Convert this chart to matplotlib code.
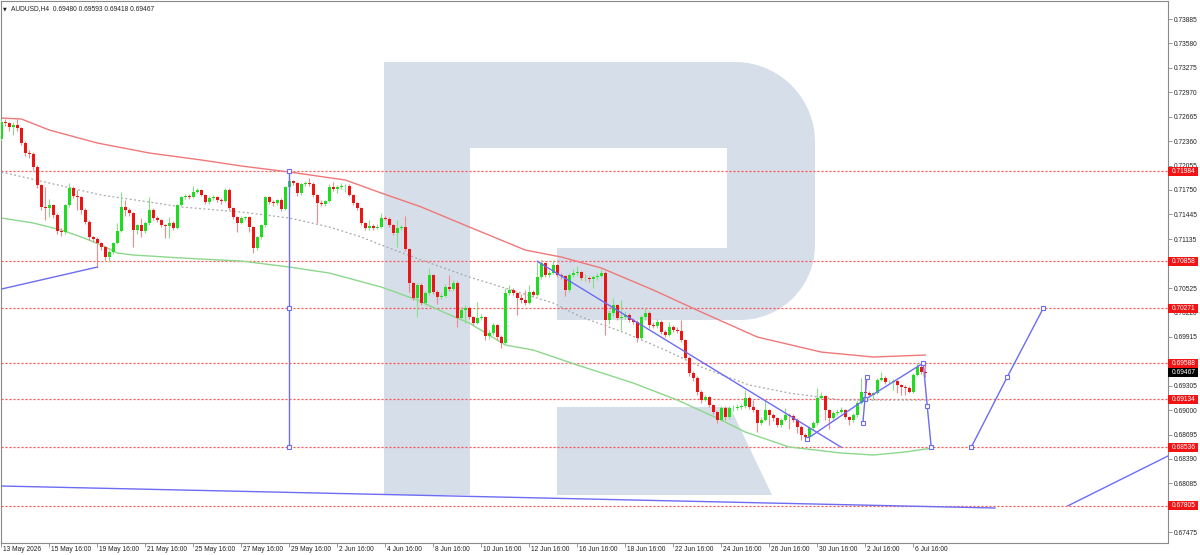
import numpy as np
import matplotlib
matplotlib.use("Agg")
import matplotlib.pyplot as plt
from matplotlib.patches import Polygon, Rectangle
from matplotlib.transforms import Affine2D, blended_transform_factory

plt.rcParams['font.family'] = ['Liberation Sans', 'DejaVu Sans']

# AUDUSD H4 candles, bar 0 = 13 May 16:00
first_open = 0.72386
closes = [
    0.72598, 0.72586, 0.72536, 0.72561, 0.72523, 0.72336, 0.72211, 0.72199, 0.72036, 0.71811, 0.71537, 0.71524,
    0.71562, 0.71437, 0.71237, 0.71224, 0.71562, 0.71774, 0.71674, 0.71661, 0.71499, 0.71349, 0.71162, 0.71137,
    0.71087, 0.71037, 0.70912, 0.70975, 0.71087, 0.71237, 0.71537, 0.71499, 0.71462, 0.71249, 0.71312, 0.71237,
    0.71337, 0.71499, 0.71399, 0.71374, 0.71312, 0.71299, 0.71337, 0.71274, 0.71562, 0.71661, 0.71674, 0.71661,
    0.71724, 0.71749, 0.71686, 0.71599, 0.71649, 0.71661, 0.71624, 0.71612, 0.71749, 0.71524, 0.71412, 0.71337,
    0.71399, 0.71412, 0.71287, 0.71024, 0.71162, 0.71312, 0.71661, 0.71599, 0.71587, 0.71624, 0.71512, 0.71786,
    0.71861, 0.71836, 0.71711, 0.71824, 0.71836, 0.71824, 0.71686, 0.71587, 0.71574, 0.71612, 0.71786, 0.71761,
    0.71786, 0.71799, 0.71799, 0.71686, 0.71587, 0.71524, 0.71337, 0.71274, 0.71299, 0.71274, 0.71287, 0.71399,
    0.71387, 0.71312, 0.71212, 0.71274, 0.71287, 0.71012, 0.70587, 0.70400, 0.70562, 0.70338, 0.70462, 0.70687,
    0.70475, 0.70412, 0.70425, 0.70537, 0.70512, 0.70587, 0.70150, 0.70250, 0.70275, 0.70163, 0.70088, 0.70150,
    0.70163, 0.69925, 0.69963, 0.70063, 0.69913, 0.69838, 0.70462, 0.70500, 0.70462, 0.70400, 0.70375, 0.70338,
    0.70475, 0.70437, 0.70662, 0.70837, 0.70687, 0.70712, 0.70812, 0.70687, 0.70675, 0.70500, 0.70687, 0.70712,
    0.70725, 0.70650, 0.70650, 0.70637, 0.70662, 0.70675, 0.70712, 0.70125, 0.70213, 0.70313, 0.70150, 0.70163,
    0.70188, 0.70125, 0.70100, 0.69900, 0.70163, 0.70213, 0.70063, 0.70050, 0.70100, 0.69975, 0.69938, 0.70038,
    0.70000, 0.69988, 0.69875, 0.69651, 0.69463, 0.69401, 0.69226, 0.69126, 0.69163, 0.69064, 0.68976, 0.68876,
    0.69026, 0.68914, 0.69026, 0.69026, 0.69039, 0.69051, 0.69151, 0.69039, 0.69001, 0.68839, 0.68876, 0.69001,
    0.68939, 0.68901, 0.68814, 0.68876, 0.68939, 0.68926, 0.68876, 0.68789, 0.68689, 0.68664, 0.68776, 0.68839,
    0.69151, 0.69176, 0.69001, 0.68901, 0.68964, 0.68976, 0.69001, 0.68914, 0.68876, 0.68939, 0.69089, 0.69226,
    0.69213, 0.69188, 0.69213, 0.69376, 0.69401, 0.69351, 0.69351, 0.69363, 0.69313, 0.69288, 0.69276, 0.69226,
    0.69438, 0.69538, 0.69480, 0.69467,
]
highs = [
    0.7263, 0.7263, 0.7260, 0.7260, 0.7263, 0.7254, 0.7236, 0.7225, 0.7222, 0.7206, 0.7183, 0.7179,
    0.7164, 0.7158, 0.7146, 0.7127, 0.7158, 0.7184, 0.7180, 0.7175, 0.7168, 0.7152, 0.7137, 0.7118,
    0.7116, 0.7110, 0.7105, 0.7100, 0.7110, 0.7134, 0.7172, 0.7162, 0.7153, 0.7148, 0.7133, 0.7140,
    0.7136, 0.7166, 0.7152, 0.7142, 0.7139, 0.7133, 0.7141, 0.7136, 0.7158, 0.7168, 0.7170, 0.7170,
    0.7180, 0.7177, 0.7176, 0.7170, 0.7167, 0.7169, 0.7168, 0.7165, 0.7177, 0.7177, 0.7154, 0.7143,
    0.7142, 0.7143, 0.7143, 0.7130, 0.7118, 0.7133, 0.7168, 0.7168, 0.7163, 0.7164, 0.7165, 0.7180,
    0.7190, 0.7188, 0.7185, 0.7184, 0.7186, 0.7190, 0.7185, 0.7170, 0.7162, 0.7163, 0.7182, 0.7185,
    0.7181, 0.7184, 0.7183, 0.7182, 0.7170, 0.7160, 0.7154, 0.7135, 0.7137, 0.7133, 0.7133, 0.7146,
    0.7142, 0.7141, 0.7133, 0.7137, 0.7131, 0.7142, 0.7103, 0.7060, 0.7059, 0.7059, 0.7049, 0.7078,
    0.7070, 0.7050, 0.7046, 0.7058, 0.7069, 0.7062, 0.7061, 0.7029, 0.7031, 0.7030, 0.7018, 0.7035,
    0.7020, 0.7018, 0.7000, 0.7009, 0.7008, 0.6994, 0.7052, 0.7056, 0.7052, 0.7048, 0.7045, 0.7050,
    0.7056, 0.7050, 0.7085, 0.7087, 0.7085, 0.7075, 0.7087, 0.7083, 0.7071, 0.7069, 0.7071, 0.7076,
    0.7080, 0.7074, 0.7070, 0.7068, 0.7069, 0.7071, 0.7076, 0.7074, 0.7025, 0.7040, 0.7033, 0.7038,
    0.7024, 0.7021, 0.7015, 0.7012, 0.7019, 0.7028, 0.7024, 0.7010, 0.7014, 0.7012, 0.7000, 0.7010,
    0.7006, 0.7004, 0.7012, 0.6989, 0.6967, 0.6949, 0.6943, 0.6925, 0.6919, 0.6918, 0.6908, 0.6899,
    0.6905, 0.6905, 0.6905, 0.6906, 0.6907, 0.6908, 0.6925, 0.6917, 0.6913, 0.6902, 0.6892, 0.6912,
    0.6902, 0.6896, 0.6892, 0.6890, 0.6903, 0.6896, 0.6895, 0.6890, 0.6881, 0.6871, 0.6880, 0.6887,
    0.6927, 0.6923, 0.6919, 0.6902, 0.6899, 0.6901, 0.6904, 0.6902, 0.6893, 0.6897, 0.6912, 0.6940,
    0.6940, 0.6924, 0.6923, 0.6940, 0.6948, 0.6942, 0.6938, 0.6939, 0.6938, 0.6933, 0.6931, 0.6930,
    0.6946, 0.6959, 0.6959, 0.69593,
]
lows = [
    0.7237, 0.7255, 0.7249, 0.7244, 0.7249, 0.7231, 0.7218, 0.7215, 0.7200, 0.7177, 0.7150, 0.7137,
    0.7141, 0.7140, 0.7120, 0.7118, 0.7120, 0.7154, 0.7165, 0.7150, 0.7145, 0.7132, 0.7113, 0.7110,
    0.7079, 0.7100, 0.7088, 0.7085, 0.7095, 0.7107, 0.7122, 0.7142, 0.7143, 0.7104, 0.7120, 0.7116,
    0.7121, 0.7131, 0.7137, 0.7135, 0.7129, 0.7115, 0.7115, 0.7125, 0.7126, 0.7155, 0.7164, 0.7164,
    0.7165, 0.7171, 0.7167, 0.7157, 0.7158, 0.7163, 0.7160, 0.7158, 0.7160, 0.7150, 0.7139, 0.7122,
    0.7132, 0.7137, 0.7122, 0.7096, 0.7100, 0.7114, 0.7129, 0.7157, 0.7155, 0.7156, 0.7149, 0.7150,
    0.7177, 0.7181, 0.7168, 0.7169, 0.7180, 0.7180, 0.7166, 0.7134, 0.7155, 0.7155, 0.7160, 0.7174,
    0.7171, 0.7176, 0.7173, 0.7167, 0.7156, 0.7150, 0.7131, 0.7125, 0.7125, 0.7125, 0.7126, 0.7127,
    0.7137, 0.7129, 0.7119, 0.7104, 0.7125, 0.7099, 0.7047, 0.7037, 0.7016, 0.7031, 0.7031, 0.7044,
    0.7045, 0.7033, 0.7039, 0.7041, 0.7049, 0.7049, 0.7004, 0.7012, 0.7009, 0.7014, 0.7006, 0.7007,
    0.7013, 0.6988, 0.6989, 0.6994, 0.6988, 0.6978, 0.6982, 0.7044, 0.7044, 0.7019, 0.7034, 0.7031,
    0.7032, 0.7041, 0.7042, 0.7064, 0.7066, 0.7066, 0.7070, 0.7066, 0.7064, 0.7043, 0.7048, 0.7066,
    0.7069, 0.7062, 0.7061, 0.7060, 0.7053, 0.7063, 0.7066, 0.6994, 0.7008, 0.7018, 0.7013, 0.7000,
    0.7014, 0.7010, 0.7007, 0.6985, 0.6988, 0.7013, 0.7003, 0.7002, 0.7003, 0.6995, 0.6991, 0.6992,
    0.6997, 0.6996, 0.6985, 0.6962, 0.6943, 0.6936, 0.6919, 0.6909, 0.6911, 0.6904, 0.6895, 0.6884,
    0.6886, 0.6888, 0.6889, 0.6899, 0.6900, 0.6902, 0.6903, 0.6901, 0.6898, 0.6873, 0.6881, 0.6886,
    0.6881, 0.6887, 0.6879, 0.6879, 0.6886, 0.6876, 0.6885, 0.6872, 0.6863, 0.6862, 0.6864, 0.6875,
    0.6882, 0.6914, 0.6888, 0.6876, 0.6888, 0.6894, 0.6896, 0.6889, 0.6881, 0.6885, 0.6892, 0.6907,
    0.6919, 0.6916, 0.6912, 0.6920, 0.6936, 0.6933, 0.6933, 0.6925, 0.6921, 0.6919, 0.6919, 0.6921,
    0.6921, 0.6942, 0.6945, 0.69418,
]

# moving averages read at sample bars
red_ma_x = [0, 5, 12, 24, 37, 50, 60, 72, 86, 95, 105, 117, 131, 140, 150, 163, 175, 189, 205, 218, 231]
red_ma = [0.72648, 0.72636, 0.72498, 0.72336, 0.72211, 0.72124, 0.72049, 0.71974, 0.71874, 0.71711, 0.71537,
          0.71287, 0.70999, 0.70912, 0.70775, 0.70500, 0.70225, 0.69913, 0.69725, 0.69663, 0.69688]
green_ma_x = [0, 8, 15, 20, 25, 29, 33, 45, 60, 72, 82, 95, 104, 111, 117, 126, 133, 144, 158, 169, 180,
              186, 197, 210, 218, 226, 233]
green_ma = [0.71399, 0.71337, 0.71249, 0.71162, 0.71062, 0.70962, 0.70937, 0.70900, 0.70862, 0.70787, 0.70712,
            0.70537, 0.70375, 0.70213, 0.70088, 0.69813, 0.69750, 0.69563, 0.69338, 0.69126, 0.68876, 0.68726,
            0.68539, 0.68464, 0.68439, 0.68477, 0.68527]
gray_ma_x = [0, 12, 25, 37, 45, 60, 72, 82, 90, 95, 105, 117, 130, 138, 145, 156, 166, 175, 187, 197, 210, 232]
gray_ma = [0.71974, 0.71836, 0.71686, 0.71599, 0.71537, 0.71474, 0.71399, 0.71287, 0.71162, 0.71062, 0.70875,
           0.70662, 0.70462, 0.70337, 0.70163, 0.69963, 0.69750, 0.69538, 0.69313, 0.69213, 0.69126, 0.69126]

levels = [0.71984, 0.70858, 0.70271, 0.69588, 0.69134, 0.68536, 0.67805]
last_price = 0.69467

# wave / trend lines drawn by the analyst (bar, price)
trend_a = ([0, 24], [0.70512, 0.70787])
trend_b = ([134, 210], [0.70858, 0.68536])
trend_low = ([-0.3, 248.4], [0.68052, 0.67777])
trend_up = ([266.7, 291.7], [0.67805, 0.68427])
target_bar = ([72, 72, 72], [0.71984, 0.70271, 0.68536])
wave_now = ([201.4, 216, 230.5, 231.5, 232.5], [0.68639, 0.69134, 0.69588, 0.69051, 0.68536])
wave_tick = ([215.4, 216.4], [0.68839, 0.69413])
wave_next = ([242.5, 251.5, 260.5], [0.68536, 0.69413, 0.70271])

yticks = [0.73885, 0.73580, 0.73275, 0.72970, 0.72665, 0.72360, 0.72055, 0.71750, 0.71445, 0.71135,
          0.70830, 0.70525, 0.70220, 0.69915, 0.69610, 0.69305, 0.69000, 0.68695, 0.68390, 0.68085,
          0.67780, 0.67475]
hidden_ticks = [0.70830, 0.67780]  # covered by the level tags
xlabels = ["13 May 2026", "15 May 16:00", "19 May 16:00", "21 May 16:00", "25 May 16:00", "27 May 16:00",
           "29 May 16:00", "2 Jun 16:00", "4 Jun 16:00", "8 Jun 16:00", "10 Jun 16:00", "12 Jun 16:00",
           "16 Jun 16:00", "18 Jun 16:00", "22 Jun 16:00", "24 Jun 16:00", "26 Jun 16:00", "30 Jun 16:00",
           "2 Jul 16:00", "6 Jul 16:00"]
bars_per_label = 12

fig = plt.figure(figsize=(12, 5.55), dpi=100, facecolor="white")
ax = fig.add_axes([1 / 1200, 12 / 555, 1167 / 1200, 542 / 555])
ax.set_facecolor("white")
ax.set_xlim(-0.1, 291.7)
ax.set_ylim(0.67340, 0.74110)

# watermark logo, in image pixels (y down)
px = Affine2D().scale(1 / 100, -1 / 100).translate(0, 5.55) + fig.dpi_scale_trans
t1 = np.linspace(np.pi / 2, 0, 20)
t2 = np.linspace(0, -np.pi / 2, 20)
bowl = ([(384, 62)] + list(zip(735 + 80 * np.cos(t1), 142 - 80 * np.sin(t1)))
        + list(zip(740 + 75 * np.cos(t2), 245 - 75 * np.sin(t2)))
        + [(557, 320), (557, 248), (727, 248), (727, 148), (470, 148), (470, 495), (384, 495)])
leg = [(557, 407), (730, 407), (772, 495), (557, 495)]
for shape in (bowl, leg):
    ax.add_patch(Polygon(shape, closed=True, fc="#d5dee9", ec="none", transform=px, zorder=0))

# price levels
for lv in levels:
    ax.axhline(lv, color="#ff5050", lw=0.9, ls=(0, (1.6, 1.6)), zorder=1)

# moving averages
ax.plot(red_ma_x, red_ma, color="#f07878", lw=1.0, zorder=2)
ax.plot(green_ma_x, green_ma, color="#8cd88c", lw=1.0, zorder=2)
ax.plot(gray_ma_x, gray_ma, color="#a8a8a8", lw=0.9, ls=(0, (1.5, 2)), zorder=2)

# candles
closes = np.array(closes)
opens = np.concatenate([[first_open], closes[:-1]])
highs = np.array(highs)
lows = np.array(lows)
idx = np.arange(len(closes))
up = closes >= opens
ax.vlines(idx[up], lows[up], highs[up], color="#86e086", lw=0.8, zorder=3)
ax.vlines(idx[~up], lows[~up], highs[~up], color="#f28a8a", lw=0.8, zorder=3)
body = np.maximum(np.abs(closes - opens), 0.00004)
ax.bar(idx[up], body[up], bottom=np.minimum(opens, closes)[up], width=0.72,
       color="#1edc1e", lw=0, zorder=4)
ax.bar(idx[~up], body[~up], bottom=np.minimum(opens, closes)[~up], width=0.72,
       color="#ec1414", lw=0, zorder=4)

# analyst lines
blue = "#6c6cf5"
for xs, ys in (trend_a, trend_b, trend_low, trend_up):
    ax.plot(xs, ys, color=blue, lw=1.0, zorder=5)
for xs, ys in (target_bar, wave_now, wave_tick, wave_next):
    ax.plot(xs, ys, color=blue, lw=1.0, marker="s", ms=3, mfc="white", mec=blue, mew=0.8, zorder=5)

# axes styling
for side in ("left", "top", "right", "bottom"):
    ax.spines[side].set_color("#8a8a8a")
    ax.spines[side].set_linewidth(0.8)
ax.yaxis.tick_right()
ax.set_yticks(yticks)
ax.set_yticklabels(["" if v in hidden_ticks else f"{v:.5f}" for v in yticks])
ax.tick_params(axis="y", length=3, width=0.6, pad=1.5, labelsize=4.8, colors="#8a8a8a", labelcolor="#222222")

xpos = np.arange(len(xlabels)) * bars_per_label
ax.set_xticks(xpos)
ax.set_xticklabels([""] * len(xpos))
ax.tick_params(axis="x", length=3, width=0.6, colors="#8a8a8a")
for pos, lab in zip(xpos, xlabels):
    ax.annotate(lab, xy=(pos, 0), xycoords=("data", "axes fraction"), xytext=(2, -3),
                textcoords="offset pixels", ha="left", va="top", fontsize=4.8, color="#222222",
                annotation_clip=False)

# level tags on the price scale
tag = blended_transform_factory(ax.transAxes, ax.transData)
box_w = 30 / 1167
box_h = 9 * (0.74110 - 0.67340) / 542
for lv, fc in [(v, "#f01414") for v in levels] + [(last_price, "#000000")]:
    ax.add_patch(Rectangle((1.0, lv - box_h / 2), box_w, box_h, transform=tag, fc=fc, ec="none",
                           clip_on=False, zorder=10))
    ax.annotate(f"{lv:.5f}", xy=(1.0, lv), xycoords=tag, xytext=(4, 0), textcoords="offset pixels",
                ha="left", va="center", fontsize=4.8, color="white", zorder=11, annotation_clip=False)

# header
fig.text(3 / 1200, 1 - 9 / 555, "\u25bc", fontsize=3.5, color="#222222", va="center",
         family=["DejaVu Sans"])
fig.text(11 / 1200, 1 - 9 / 555, "AUDUSD,H4  0.69480 0.69593 0.69418 0.69467", fontsize=4.8,
         color="#222222", va="center")

fig.savefig("out.png", dpi=100, facecolor="white")
